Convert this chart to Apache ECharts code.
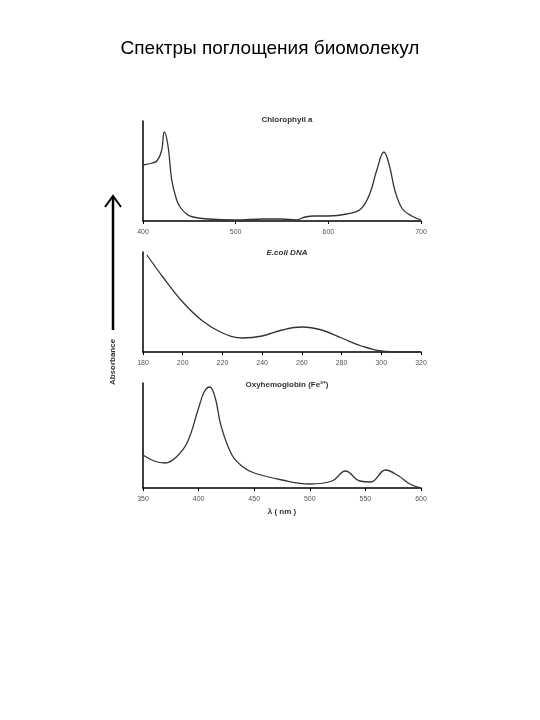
<!DOCTYPE html>
<html><head><meta charset="utf-8">
<script src="https://cdn.jsdelivr.net/npm/echarts@6/dist/echarts.min.js"></script>
<style>html,body{margin:0;background:#fff}#c{width:540px;height:720px}</style>
</head><body><div id="c"></div>
<script>
// spectra (absorbance in arbitrary units)
const chlX = [400, 410, 415, 420, 423, 427, 431, 436, 440, 447, 454, 470, 500, 530, 550, 565, 575, 585, 600, 620, 635, 645, 652, 660, 666, 672, 680, 690, 700];
const chlY = [56, 58, 60, 70, 89, 75, 41, 22, 14, 7, 4, 2, 1, 2, 2, 1, 4, 5, 5, 7, 12, 28, 50, 69, 55, 30, 12, 5, 1];
const dnaX = [182, 190, 200, 210, 220, 230, 240, 250, 260, 270, 280, 290, 300, 310, 320];
const dnaY = [97, 75, 50, 31, 19, 14, 16, 22, 25, 22, 14, 6, 1, 0, 0];
const hbX = [350, 360, 370, 380, 390, 400, 405, 410, 415, 420, 430, 440, 450, 475, 500, 520, 532, 545, 555, 568, 580, 590, 600];
const hbY = [33, 27, 25, 31, 46, 80, 96, 101, 90, 63, 33, 21, 15, 8, 4, 7, 17, 7, 6, 18, 12, 4, 0];
const titles = ['Chlorophyll a', 'E.coli DNA', 'Oxyhemoglobin (Fe²⁺)'];

const chart = echarts.init(document.getElementById('c'));
const grids = [
  { left: 143, width: 278, top: 121, height: 100 },
  { left: 143, width: 278, top: 252, height: 100 },
  { left: 143, width: 278, top: 383, height: 105 }
];
const xr = [[400, 700, 100], [180, 320, 20], [350, 600, 50]];
const yMax = [100, 100, 105];
const data = [[chlX, chlY], [dnaX, dnaY], [hbX, hbY]];

const axisText = { color: '#555', fontSize: 7, fontFamily: 'Arial' };
chart.setOption({
  animation: false,
  title: [
    { text: 'Спектры поглощения биомолекул', left: 'center', top: 34,
      textStyle: { fontSize: 19, fontWeight: 'normal', color: '#000', fontFamily: 'Arial' } },
    ...titles.map((t, i) => ({
      text: t, left: 282, textAlign: 'center', top: [111, 244, 376][i],
      textStyle: { fontSize: 8, fontWeight: 'bold', fontStyle: i === 1 ? 'italic' : 'normal', color: '#333', fontFamily: 'Arial' }
    }))
  ],
  grid: grids,
  xAxis: xr.map((r, i) => ({
    type: 'value', gridIndex: i, min: r[0], max: r[1], interval: r[2],
    axisLine: { lineStyle: { color: '#000', width: 1.5 } },
    axisTick: { show: true, length: 3, lineStyle: { color: '#000' } },
    splitLine: { show: false },
    axisLabel: axisText,
    name: i === 2 ? 'λ ( nm )' : '', nameLocation: 'middle', nameGap: 20,
    nameTextStyle: { fontSize: 8, color: '#333', fontWeight: 'bold' }
  })),
  yAxis: yMax.map((m, i) => ({
    type: 'value', gridIndex: i, min: 0, max: m,
    axisLine: { show: true, lineStyle: { color: '#000', width: 1.5 } },
    axisTick: { show: false }, axisLabel: { show: false }, splitLine: { show: false }
  })),
  series: data.map((d, i) => ({
    type: 'line', xAxisIndex: i, yAxisIndex: i, smooth: 0.4, symbol: 'none',
    lineStyle: { color: '#333', width: 1.3 },
    data: d[0].map((x, k) => [x, d[1][k]])
  })),
  graphic: [
    { type: 'line', shape: { x1: 113, y1: 197, x2: 113, y2: 330 }, style: { stroke: '#000', lineWidth: 2.5 } },
    { type: 'polyline', shape: { points: [[105, 207], [113, 196], [121, 207]] }, style: { stroke: '#000', lineWidth: 2, fill: null } },
    { type: 'text', x: 113, y: 362, rotation: Math.PI / 2,
      style: { text: 'Absorbance', fontSize: 8, fontWeight: 'bold', fill: '#333', align: 'center', verticalAlign: 'middle', fontFamily: 'Arial' } }
  ]
});
</script></body></html>
